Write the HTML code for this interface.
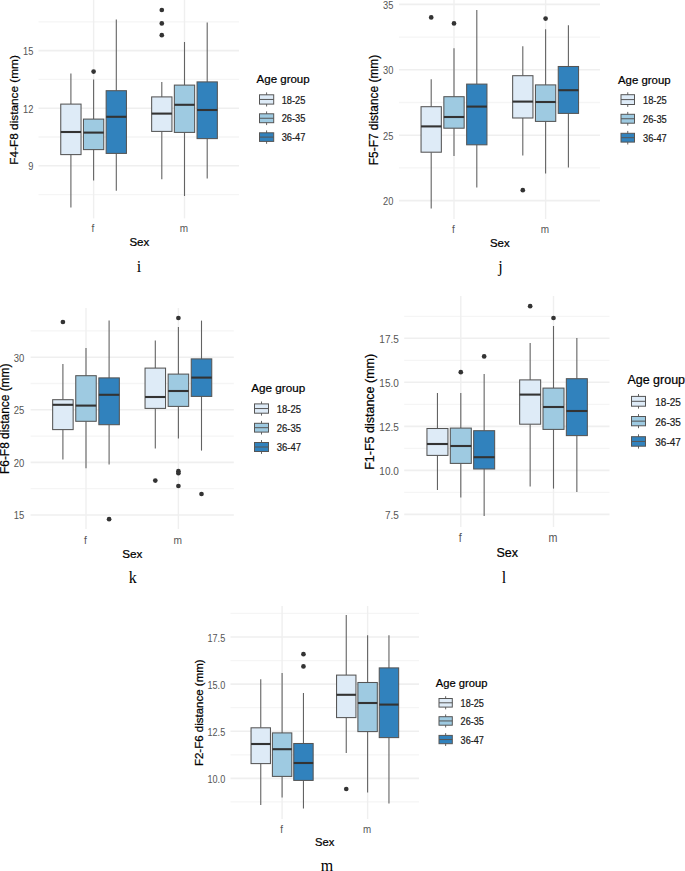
<!DOCTYPE html>
<html><head><meta charset="utf-8"><title>Boxplots</title>
<style>
html,body{margin:0;padding:0;background:#fff;}
body{width:685px;height:871px;overflow:hidden;}
svg{display:block;font-family:"Liberation Sans",sans-serif;}
</style></head>
<body>
<svg width="685" height="871" viewBox="0 0 685 871">
<rect width="685" height="871" fill="#fff"/>
<line x1="38.5" x2="239" y1="194.6" y2="194.6" stroke="#f5f5f5" stroke-width="1.3"/>
<line x1="38.5" x2="239" y1="137" y2="137" stroke="#f5f5f5" stroke-width="1.3"/>
<line x1="38.5" x2="239" y1="79.4" y2="79.4" stroke="#f5f5f5" stroke-width="1.3"/>
<line x1="38.5" x2="239" y1="21.8" y2="21.8" stroke="#f5f5f5" stroke-width="1.3"/>
<line x1="38.5" x2="239" y1="165.8" y2="165.8" stroke="#efefef" stroke-width="1.6"/>
<line x1="38.5" x2="239" y1="108.2" y2="108.2" stroke="#efefef" stroke-width="1.6"/>
<line x1="38.5" x2="239" y1="50.6" y2="50.6" stroke="#efefef" stroke-width="1.6"/>
<line x1="93.6" x2="93.6" y1="0" y2="218.4" stroke="#efefef" stroke-width="1.4"/>
<line x1="184.5" x2="184.5" y1="0" y2="218.4" stroke="#efefef" stroke-width="1.4"/>
<line x1="70.9" x2="70.9" y1="73.6" y2="104.1" stroke="#636363" stroke-width="1.1"/>
<line x1="70.9" x2="70.9" y1="154.6" y2="207.6" stroke="#636363" stroke-width="1.1"/>
<rect x="60.75" y="104.1" width="20.3" height="50.5" fill="#deebf7" stroke="#555555" stroke-width="1.05"/>
<line x1="60.75" x2="81.05" y1="132" y2="132" stroke="#333333" stroke-width="2.1"/>
<line x1="93.6" x2="93.6" y1="79.4" y2="119.1" stroke="#636363" stroke-width="1.1"/>
<line x1="93.6" x2="93.6" y1="149.6" y2="180.4" stroke="#636363" stroke-width="1.1"/>
<rect x="83.45" y="119.1" width="20.3" height="30.5" fill="#9ecae1" stroke="#555555" stroke-width="1.05"/>
<line x1="83.45" x2="103.75" y1="132.6" y2="132.6" stroke="#333333" stroke-width="2.1"/>
<circle cx="93.6" cy="71.6" r="2.35" fill="#333333"/>
<line x1="116.3" x2="116.3" y1="19.4" y2="90.7" stroke="#636363" stroke-width="1.1"/>
<line x1="116.3" x2="116.3" y1="153.4" y2="190.8" stroke="#636363" stroke-width="1.1"/>
<rect x="106.15" y="90.7" width="20.3" height="62.7" fill="#3182bd" stroke="#555555" stroke-width="1.05"/>
<line x1="106.15" x2="126.45" y1="116.8" y2="116.8" stroke="#333333" stroke-width="2.1"/>
<line x1="161.8" x2="161.8" y1="82" y2="96.9" stroke="#636363" stroke-width="1.1"/>
<line x1="161.8" x2="161.8" y1="131.4" y2="179.2" stroke="#636363" stroke-width="1.1"/>
<rect x="151.65" y="96.9" width="20.3" height="34.5" fill="#deebf7" stroke="#555555" stroke-width="1.05"/>
<line x1="151.65" x2="171.95" y1="113.6" y2="113.6" stroke="#333333" stroke-width="2.1"/>
<circle cx="161.8" cy="10" r="2.35" fill="#333333"/>
<circle cx="161.8" cy="23.4" r="2.35" fill="#333333"/>
<circle cx="161.8" cy="35.2" r="2.35" fill="#333333"/>
<line x1="184.5" x2="184.5" y1="42" y2="85.1" stroke="#636363" stroke-width="1.1"/>
<line x1="184.5" x2="184.5" y1="132.4" y2="196" stroke="#636363" stroke-width="1.1"/>
<rect x="174.35" y="85.1" width="20.3" height="47.3" fill="#9ecae1" stroke="#555555" stroke-width="1.05"/>
<line x1="174.35" x2="194.65" y1="104.8" y2="104.8" stroke="#333333" stroke-width="2.1"/>
<line x1="207.2" x2="207.2" y1="22.4" y2="81.9" stroke="#636363" stroke-width="1.1"/>
<line x1="207.2" x2="207.2" y1="138.6" y2="178.6" stroke="#636363" stroke-width="1.1"/>
<rect x="197.05" y="81.9" width="20.3" height="56.7" fill="#3182bd" stroke="#555555" stroke-width="1.05"/>
<line x1="197.05" x2="217.35" y1="110" y2="110" stroke="#333333" stroke-width="2.1"/>
<text transform="translate(33.3,54.91) scale(0.8929,1)" font-size="10.42" fill="#555555" text-anchor="end" stroke="#555555" stroke-width="0.0">15</text>
<text transform="translate(33.3,112.51) scale(0.8929,1)" font-size="10.42" fill="#555555" text-anchor="end" stroke="#555555" stroke-width="0.0">12</text>
<text transform="translate(33.3,170.11) scale(0.8929,1)" font-size="10.42" fill="#555555" text-anchor="end" stroke="#555555" stroke-width="0.0">9</text>
<text transform="translate(93,232.3) scale(0.8929,1)" font-size="11.2" fill="#555555" text-anchor="middle" stroke="#555555" stroke-width="0.0">f</text>
<text transform="translate(183.9,232.3) scale(0.8929,1)" font-size="11.2" fill="#555555" text-anchor="middle" stroke="#555555" stroke-width="0.0">m</text>
<text x="139.3" y="246" font-size="11.5" fill="#000" text-anchor="middle" stroke="#000" stroke-width="0.22">Sex</text>
<text transform="translate(17.5,109.9) rotate(-90)" font-size="11.8" fill="#000" text-anchor="middle" stroke="#000" stroke-width="0.22">F4-F8 distance (mm)</text>
<text x="256.6" y="83.2" font-size="11.5" fill="#000" stroke="#000" stroke-width="0.22">Age group</text>
<line x1="266.6" x2="266.6" y1="92.4" y2="106.5" stroke="#636363" stroke-width="1"/>
<rect x="259.5" y="94.8" width="14.2" height="9.3" fill="#deebf7" stroke="#555555" stroke-width="1"/>
<line x1="259.5" x2="273.7" y1="99.45" y2="99.45" stroke="#555" stroke-width="1"/>
<text transform="translate(281.7,103.66) scale(0.8929,1)" font-size="10.42" fill="#1a1a1a" stroke="#1a1a1a" stroke-width="0.22">18-25</text>
<line x1="266.6" x2="266.6" y1="111.4" y2="125.1" stroke="#636363" stroke-width="1"/>
<rect x="259.5" y="113.8" width="14.2" height="8.9" fill="#9ecae1" stroke="#555555" stroke-width="1"/>
<line x1="259.5" x2="273.7" y1="118.25" y2="118.25" stroke="#555" stroke-width="1"/>
<text transform="translate(281.7,122.46) scale(0.8929,1)" font-size="10.42" fill="#1a1a1a" stroke="#1a1a1a" stroke-width="0.22">26-35</text>
<line x1="266.6" x2="266.6" y1="130.4" y2="143.8" stroke="#636363" stroke-width="1"/>
<rect x="259.5" y="132.8" width="14.2" height="8.6" fill="#3182bd" stroke="#555555" stroke-width="1"/>
<line x1="259.5" x2="273.7" y1="137.1" y2="137.1" stroke="#555" stroke-width="1"/>
<text transform="translate(281.7,141.31) scale(0.8929,1)" font-size="10.42" fill="#1a1a1a" stroke="#1a1a1a" stroke-width="0.22">36-47</text>
<text x="139" y="272" font-size="16" font-family="Liberation Serif, serif" fill="#000" text-anchor="middle">i</text>
<line x1="399" x2="600" y1="167.9" y2="167.9" stroke="#f5f5f5" stroke-width="1.3"/>
<line x1="399" x2="600" y1="102.5" y2="102.5" stroke="#f5f5f5" stroke-width="1.3"/>
<line x1="399" x2="600" y1="37.1" y2="37.1" stroke="#f5f5f5" stroke-width="1.3"/>
<line x1="399" x2="600" y1="200.6" y2="200.6" stroke="#efefef" stroke-width="1.6"/>
<line x1="399" x2="600" y1="135.2" y2="135.2" stroke="#efefef" stroke-width="1.6"/>
<line x1="399" x2="600" y1="69.8" y2="69.8" stroke="#efefef" stroke-width="1.6"/>
<line x1="399" x2="600" y1="4.4" y2="4.4" stroke="#efefef" stroke-width="1.6"/>
<line x1="454" x2="454" y1="0" y2="219" stroke="#efefef" stroke-width="1.4"/>
<line x1="545.6" x2="545.6" y1="0" y2="219" stroke="#efefef" stroke-width="1.4"/>
<line x1="431.2" x2="431.2" y1="79.2" y2="106.7" stroke="#636363" stroke-width="1.1"/>
<line x1="431.2" x2="431.2" y1="152.2" y2="208.6" stroke="#636363" stroke-width="1.1"/>
<rect x="421.05" y="106.7" width="20.3" height="45.5" fill="#deebf7" stroke="#555555" stroke-width="1.05"/>
<line x1="421.05" x2="441.35" y1="126.4" y2="126.4" stroke="#333333" stroke-width="2.1"/>
<circle cx="431.2" cy="17.4" r="2.35" fill="#333333"/>
<line x1="454" x2="454" y1="48.2" y2="96.7" stroke="#636363" stroke-width="1.1"/>
<line x1="454" x2="454" y1="128.2" y2="156" stroke="#636363" stroke-width="1.1"/>
<rect x="443.85" y="96.7" width="20.3" height="31.5" fill="#9ecae1" stroke="#555555" stroke-width="1.05"/>
<line x1="443.85" x2="464.15" y1="117" y2="117" stroke="#333333" stroke-width="2.1"/>
<circle cx="454" cy="23.4" r="2.35" fill="#333333"/>
<line x1="476.8" x2="476.8" y1="10" y2="84.1" stroke="#636363" stroke-width="1.1"/>
<line x1="476.8" x2="476.8" y1="144.8" y2="187.6" stroke="#636363" stroke-width="1.1"/>
<rect x="466.65" y="84.1" width="20.3" height="60.7" fill="#3182bd" stroke="#555555" stroke-width="1.05"/>
<line x1="466.65" x2="486.95" y1="106.6" y2="106.6" stroke="#333333" stroke-width="2.1"/>
<line x1="522.8" x2="522.8" y1="46.2" y2="75.7" stroke="#636363" stroke-width="1.1"/>
<line x1="522.8" x2="522.8" y1="118" y2="155.6" stroke="#636363" stroke-width="1.1"/>
<rect x="512.65" y="75.7" width="20.3" height="42.3" fill="#deebf7" stroke="#555555" stroke-width="1.05"/>
<line x1="512.65" x2="532.95" y1="101.6" y2="101.6" stroke="#333333" stroke-width="2.1"/>
<circle cx="522.8" cy="190.2" r="2.35" fill="#333333"/>
<line x1="545.6" x2="545.6" y1="29.2" y2="84.9" stroke="#636363" stroke-width="1.1"/>
<line x1="545.6" x2="545.6" y1="121.4" y2="173.4" stroke="#636363" stroke-width="1.1"/>
<rect x="535.45" y="84.9" width="20.3" height="36.5" fill="#9ecae1" stroke="#555555" stroke-width="1.05"/>
<line x1="535.45" x2="555.75" y1="102" y2="102" stroke="#333333" stroke-width="2.1"/>
<circle cx="545.6" cy="18.6" r="2.35" fill="#333333"/>
<line x1="568.4" x2="568.4" y1="25.2" y2="66.5" stroke="#636363" stroke-width="1.1"/>
<line x1="568.4" x2="568.4" y1="113.4" y2="167.6" stroke="#636363" stroke-width="1.1"/>
<rect x="558.25" y="66.5" width="20.3" height="46.9" fill="#3182bd" stroke="#555555" stroke-width="1.05"/>
<line x1="558.25" x2="578.55" y1="90.2" y2="90.2" stroke="#333333" stroke-width="2.1"/>
<text transform="translate(393.3,8.71) scale(0.8929,1)" font-size="10.42" fill="#555555" text-anchor="end" stroke="#555555" stroke-width="0.0">35</text>
<text transform="translate(393.3,74.11) scale(0.8929,1)" font-size="10.42" fill="#555555" text-anchor="end" stroke="#555555" stroke-width="0.0">30</text>
<text transform="translate(393.3,139.51) scale(0.8929,1)" font-size="10.42" fill="#555555" text-anchor="end" stroke="#555555" stroke-width="0.0">25</text>
<text transform="translate(393.3,204.91) scale(0.8929,1)" font-size="10.42" fill="#555555" text-anchor="end" stroke="#555555" stroke-width="0.0">20</text>
<text transform="translate(453.4,233) scale(0.8929,1)" font-size="11.2" fill="#555555" text-anchor="middle" stroke="#555555" stroke-width="0.0">f</text>
<text transform="translate(545,233) scale(0.8929,1)" font-size="11.2" fill="#555555" text-anchor="middle" stroke="#555555" stroke-width="0.0">m</text>
<text x="499.8" y="247" font-size="11.4" fill="#000" text-anchor="middle" stroke="#000" stroke-width="0.22">Sex</text>
<text transform="translate(377.7,110) rotate(-90)" font-size="11.9" fill="#000" text-anchor="middle" stroke="#000" stroke-width="0.22">F5-F7 distance (mm)</text>
<text x="618" y="83.5" font-size="11.4" fill="#000" stroke="#000" stroke-width="0.22">Age group</text>
<line x1="627.75" x2="627.75" y1="92.3" y2="106.9" stroke="#636363" stroke-width="1"/>
<rect x="621" y="94.7" width="13.5" height="9.8" fill="#deebf7" stroke="#555555" stroke-width="1"/>
<line x1="621" x2="634.5" y1="99.6" y2="99.6" stroke="#555" stroke-width="1"/>
<text transform="translate(643,103.81) scale(0.8929,1)" font-size="10.42" fill="#1a1a1a" stroke="#1a1a1a" stroke-width="0.22">18-25</text>
<line x1="627.75" x2="627.75" y1="111.9" y2="125.6" stroke="#636363" stroke-width="1"/>
<rect x="621" y="114.3" width="13.5" height="8.9" fill="#9ecae1" stroke="#555555" stroke-width="1"/>
<line x1="621" x2="634.5" y1="118.75" y2="118.75" stroke="#555" stroke-width="1"/>
<text transform="translate(643,122.96) scale(0.8929,1)" font-size="10.42" fill="#1a1a1a" stroke="#1a1a1a" stroke-width="0.22">26-35</text>
<line x1="627.75" x2="627.75" y1="130.9" y2="144.5" stroke="#636363" stroke-width="1"/>
<rect x="621" y="133.3" width="13.5" height="8.8" fill="#3182bd" stroke="#555555" stroke-width="1"/>
<line x1="621" x2="634.5" y1="137.7" y2="137.7" stroke="#555" stroke-width="1"/>
<text transform="translate(643,141.91) scale(0.8929,1)" font-size="10.42" fill="#1a1a1a" stroke="#1a1a1a" stroke-width="0.22">36-47</text>
<text x="500.5" y="272" font-size="16" font-family="Liberation Serif, serif" fill="#000" text-anchor="middle">j</text>
<line x1="30.6" x2="233.8" y1="488.7" y2="488.7" stroke="#f5f5f5" stroke-width="1.3"/>
<line x1="30.6" x2="233.8" y1="436.1" y2="436.1" stroke="#f5f5f5" stroke-width="1.3"/>
<line x1="30.6" x2="233.8" y1="383.5" y2="383.5" stroke="#f5f5f5" stroke-width="1.3"/>
<line x1="30.6" x2="233.8" y1="330.9" y2="330.9" stroke="#f5f5f5" stroke-width="1.3"/>
<line x1="30.6" x2="233.8" y1="515" y2="515" stroke="#efefef" stroke-width="1.6"/>
<line x1="30.6" x2="233.8" y1="462.4" y2="462.4" stroke="#efefef" stroke-width="1.6"/>
<line x1="30.6" x2="233.8" y1="409.8" y2="409.8" stroke="#efefef" stroke-width="1.6"/>
<line x1="30.6" x2="233.8" y1="357.2" y2="357.2" stroke="#efefef" stroke-width="1.6"/>
<line x1="86" x2="86" y1="308" y2="529" stroke="#efefef" stroke-width="1.4"/>
<line x1="178.4" x2="178.4" y1="308" y2="529" stroke="#efefef" stroke-width="1.4"/>
<line x1="62.9" x2="62.9" y1="364" y2="399.7" stroke="#636363" stroke-width="1.1"/>
<line x1="62.9" x2="62.9" y1="429.6" y2="459.6" stroke="#636363" stroke-width="1.1"/>
<rect x="52.65" y="399.7" width="20.5" height="29.9" fill="#deebf7" stroke="#555555" stroke-width="1.05"/>
<line x1="52.65" x2="73.15" y1="404.8" y2="404.8" stroke="#333333" stroke-width="2.1"/>
<circle cx="62.9" cy="322" r="2.35" fill="#333333"/>
<line x1="86" x2="86" y1="348" y2="375.7" stroke="#636363" stroke-width="1.1"/>
<line x1="86" x2="86" y1="421.3" y2="468.2" stroke="#636363" stroke-width="1.1"/>
<rect x="75.75" y="375.7" width="20.5" height="45.6" fill="#9ecae1" stroke="#555555" stroke-width="1.05"/>
<line x1="75.75" x2="96.25" y1="405.6" y2="405.6" stroke="#333333" stroke-width="2.1"/>
<line x1="109.1" x2="109.1" y1="320.6" y2="377.9" stroke="#636363" stroke-width="1.1"/>
<line x1="109.1" x2="109.1" y1="424.7" y2="464.6" stroke="#636363" stroke-width="1.1"/>
<rect x="98.85" y="377.9" width="20.5" height="46.8" fill="#3182bd" stroke="#555555" stroke-width="1.05"/>
<line x1="98.85" x2="119.35" y1="394.8" y2="394.8" stroke="#333333" stroke-width="2.1"/>
<circle cx="109.1" cy="519.2" r="2.35" fill="#333333"/>
<line x1="155.3" x2="155.3" y1="340.6" y2="368.1" stroke="#636363" stroke-width="1.1"/>
<line x1="155.3" x2="155.3" y1="408.4" y2="448.6" stroke="#636363" stroke-width="1.1"/>
<rect x="145.05" y="368.1" width="20.5" height="40.3" fill="#deebf7" stroke="#555555" stroke-width="1.05"/>
<line x1="145.05" x2="165.55" y1="397" y2="397" stroke="#333333" stroke-width="2.1"/>
<circle cx="155.3" cy="480.6" r="2.35" fill="#333333"/>
<line x1="178.4" x2="178.4" y1="327" y2="374.1" stroke="#636363" stroke-width="1.1"/>
<line x1="178.4" x2="178.4" y1="406.4" y2="438.4" stroke="#636363" stroke-width="1.1"/>
<rect x="168.15" y="374.1" width="20.5" height="32.3" fill="#9ecae1" stroke="#555555" stroke-width="1.05"/>
<line x1="168.15" x2="188.65" y1="391" y2="391" stroke="#333333" stroke-width="2.1"/>
<circle cx="178.4" cy="318" r="2.35" fill="#333333"/>
<circle cx="178.4" cy="471.2" r="2.35" fill="#333333"/>
<circle cx="178.4" cy="473.2" r="2.35" fill="#333333"/>
<circle cx="178.4" cy="486" r="2.35" fill="#333333"/>
<line x1="201.5" x2="201.5" y1="320.6" y2="358.9" stroke="#636363" stroke-width="1.1"/>
<line x1="201.5" x2="201.5" y1="396.4" y2="450.6" stroke="#636363" stroke-width="1.1"/>
<rect x="191.25" y="358.9" width="20.5" height="37.5" fill="#3182bd" stroke="#555555" stroke-width="1.05"/>
<line x1="191.25" x2="211.75" y1="377.6" y2="377.6" stroke="#333333" stroke-width="2.1"/>
<circle cx="201.5" cy="494" r="2.35" fill="#333333"/>
<text transform="translate(24.3,361.58) scale(0.8929,1)" font-size="10.64" fill="#555555" text-anchor="end" stroke="#555555" stroke-width="0.0">30</text>
<text transform="translate(24.3,414.18) scale(0.8929,1)" font-size="10.64" fill="#555555" text-anchor="end" stroke="#555555" stroke-width="0.0">25</text>
<text transform="translate(24.3,466.78) scale(0.8929,1)" font-size="10.64" fill="#555555" text-anchor="end" stroke="#555555" stroke-width="0.0">20</text>
<text transform="translate(24.3,519.38) scale(0.8929,1)" font-size="10.64" fill="#555555" text-anchor="end" stroke="#555555" stroke-width="0.0">15</text>
<text transform="translate(85.4,543.5) scale(0.8929,1)" font-size="11.42" fill="#555555" text-anchor="middle" stroke="#555555" stroke-width="0.0">f</text>
<text transform="translate(177.8,543.5) scale(0.8929,1)" font-size="11.42" fill="#555555" text-anchor="middle" stroke="#555555" stroke-width="0.0">m</text>
<text x="132.2" y="557.6" font-size="11.7" fill="#000" text-anchor="middle" stroke="#000" stroke-width="0.22">Sex</text>
<text transform="translate(9.4,418.8) rotate(-90)" font-size="11.9" fill="#000" text-anchor="middle" stroke="#000" stroke-width="0.22">F6-F8 distance (mm)</text>
<text x="251.3" y="392" font-size="11.7" fill="#000" stroke="#000" stroke-width="0.22">Age group</text>
<line x1="261.5" x2="261.5" y1="401.5" y2="415.6" stroke="#636363" stroke-width="1"/>
<rect x="254.5" y="403.9" width="14" height="9.3" fill="#deebf7" stroke="#555555" stroke-width="1"/>
<line x1="254.5" x2="268.5" y1="408.55" y2="408.55" stroke="#555" stroke-width="1"/>
<text transform="translate(276.8,412.83) scale(0.8929,1)" font-size="10.64" fill="#1a1a1a" stroke="#1a1a1a" stroke-width="0.22">18-25</text>
<line x1="261.5" x2="261.5" y1="420.9" y2="434.5" stroke="#636363" stroke-width="1"/>
<rect x="254.5" y="423.3" width="14" height="8.8" fill="#9ecae1" stroke="#555555" stroke-width="1"/>
<line x1="254.5" x2="268.5" y1="427.7" y2="427.7" stroke="#555" stroke-width="1"/>
<text transform="translate(276.8,431.98) scale(0.8929,1)" font-size="10.64" fill="#1a1a1a" stroke="#1a1a1a" stroke-width="0.22">26-35</text>
<line x1="261.5" x2="261.5" y1="440.1" y2="453.9" stroke="#636363" stroke-width="1"/>
<rect x="254.5" y="442.5" width="14" height="9" fill="#3182bd" stroke="#555555" stroke-width="1"/>
<line x1="254.5" x2="268.5" y1="447" y2="447" stroke="#555" stroke-width="1"/>
<text transform="translate(276.8,451.28) scale(0.8929,1)" font-size="10.64" fill="#1a1a1a" stroke="#1a1a1a" stroke-width="0.22">36-47</text>
<text x="132.7" y="583" font-size="16" font-family="Liberation Serif, serif" fill="#000" text-anchor="middle">k</text>
<line x1="404.2" x2="609.5" y1="492.39" y2="492.39" stroke="#f5f5f5" stroke-width="1.3"/>
<line x1="404.2" x2="609.5" y1="448.36" y2="448.36" stroke="#f5f5f5" stroke-width="1.3"/>
<line x1="404.2" x2="609.5" y1="404.34" y2="404.34" stroke="#f5f5f5" stroke-width="1.3"/>
<line x1="404.2" x2="609.5" y1="360.31" y2="360.31" stroke="#f5f5f5" stroke-width="1.3"/>
<line x1="404.2" x2="609.5" y1="316.29" y2="316.29" stroke="#f5f5f5" stroke-width="1.3"/>
<line x1="404.2" x2="609.5" y1="514.4" y2="514.4" stroke="#efefef" stroke-width="1.6"/>
<line x1="404.2" x2="609.5" y1="470.38" y2="470.38" stroke="#efefef" stroke-width="1.6"/>
<line x1="404.2" x2="609.5" y1="426.35" y2="426.35" stroke="#efefef" stroke-width="1.6"/>
<line x1="404.2" x2="609.5" y1="382.32" y2="382.32" stroke="#efefef" stroke-width="1.6"/>
<line x1="404.2" x2="609.5" y1="338.3" y2="338.3" stroke="#efefef" stroke-width="1.6"/>
<line x1="460.8" x2="460.8" y1="296" y2="527" stroke="#efefef" stroke-width="1.4"/>
<line x1="553.5" x2="553.5" y1="296" y2="527" stroke="#efefef" stroke-width="1.4"/>
<line x1="437.45" x2="437.45" y1="393" y2="428.5" stroke="#636363" stroke-width="1.1"/>
<line x1="437.45" x2="437.45" y1="455.4" y2="490" stroke="#636363" stroke-width="1.1"/>
<rect x="426.95" y="428.5" width="21" height="26.9" fill="#deebf7" stroke="#555555" stroke-width="1.05"/>
<line x1="426.95" x2="447.95" y1="444" y2="444" stroke="#333333" stroke-width="2.1"/>
<line x1="460.8" x2="460.8" y1="393" y2="428.1" stroke="#636363" stroke-width="1.1"/>
<line x1="460.8" x2="460.8" y1="463.4" y2="497.6" stroke="#636363" stroke-width="1.1"/>
<rect x="450.3" y="428.1" width="21" height="35.3" fill="#9ecae1" stroke="#555555" stroke-width="1.05"/>
<line x1="450.3" x2="471.3" y1="446" y2="446" stroke="#333333" stroke-width="2.1"/>
<circle cx="460.8" cy="372.2" r="2.35" fill="#333333"/>
<line x1="484.15" x2="484.15" y1="374" y2="430.7" stroke="#636363" stroke-width="1.1"/>
<line x1="484.15" x2="484.15" y1="469" y2="516" stroke="#636363" stroke-width="1.1"/>
<rect x="473.65" y="430.7" width="21" height="38.3" fill="#3182bd" stroke="#555555" stroke-width="1.05"/>
<line x1="473.65" x2="494.65" y1="457.2" y2="457.2" stroke="#333333" stroke-width="2.1"/>
<circle cx="484.15" cy="356.4" r="2.35" fill="#333333"/>
<line x1="530.15" x2="530.15" y1="343" y2="379.9" stroke="#636363" stroke-width="1.1"/>
<line x1="530.15" x2="530.15" y1="424.2" y2="486.6" stroke="#636363" stroke-width="1.1"/>
<rect x="519.65" y="379.9" width="21" height="44.3" fill="#deebf7" stroke="#555555" stroke-width="1.05"/>
<line x1="519.65" x2="540.65" y1="394.6" y2="394.6" stroke="#333333" stroke-width="2.1"/>
<circle cx="530.15" cy="306.2" r="2.35" fill="#333333"/>
<line x1="553.5" x2="553.5" y1="326" y2="388.1" stroke="#636363" stroke-width="1.1"/>
<line x1="553.5" x2="553.5" y1="429.4" y2="488.6" stroke="#636363" stroke-width="1.1"/>
<rect x="543" y="388.1" width="21" height="41.3" fill="#9ecae1" stroke="#555555" stroke-width="1.05"/>
<line x1="543" x2="564" y1="407" y2="407" stroke="#333333" stroke-width="2.1"/>
<circle cx="553.5" cy="318" r="2.35" fill="#333333"/>
<line x1="576.85" x2="576.85" y1="338" y2="378.7" stroke="#636363" stroke-width="1.1"/>
<line x1="576.85" x2="576.85" y1="435.6" y2="492" stroke="#636363" stroke-width="1.1"/>
<rect x="566.35" y="378.7" width="21" height="56.9" fill="#3182bd" stroke="#555555" stroke-width="1.05"/>
<line x1="566.35" x2="587.35" y1="411" y2="411" stroke="#333333" stroke-width="2.1"/>
<text transform="translate(398.8,342.65) scale(0.8929,1)" font-size="11.2" fill="#555555" text-anchor="end" stroke="#555555" stroke-width="0.0">17.5</text>
<text transform="translate(398.8,386.68) scale(0.8929,1)" font-size="11.2" fill="#555555" text-anchor="end" stroke="#555555" stroke-width="0.0">15.0</text>
<text transform="translate(398.8,430.7) scale(0.8929,1)" font-size="11.2" fill="#555555" text-anchor="end" stroke="#555555" stroke-width="0.0">12.5</text>
<text transform="translate(398.8,474.73) scale(0.8929,1)" font-size="11.2" fill="#555555" text-anchor="end" stroke="#555555" stroke-width="0.0">10.0</text>
<text transform="translate(398.8,518.75) scale(0.8929,1)" font-size="11.2" fill="#555555" text-anchor="end" stroke="#555555" stroke-width="0.0">7.5</text>
<text transform="translate(460.2,542.2) scale(0.8929,1)" font-size="11.98" fill="#555555" text-anchor="middle" stroke="#555555" stroke-width="0.0">f</text>
<text transform="translate(552.9,542.2) scale(0.8929,1)" font-size="11.98" fill="#555555" text-anchor="middle" stroke="#555555" stroke-width="0.0">m</text>
<text x="507.3" y="557" font-size="12.5" fill="#000" text-anchor="middle" stroke="#000" stroke-width="0.22">Sex</text>
<text transform="translate(374.2,411.8) rotate(-90)" font-size="12.5" fill="#000" text-anchor="middle" stroke="#000" stroke-width="0.22">F1-F5 distance (mm)</text>
<text x="627.4" y="383.6" font-size="12.5" fill="#000" stroke="#000" stroke-width="0.22">Age group</text>
<line x1="638.5" x2="638.5" y1="394" y2="408.6" stroke="#636363" stroke-width="1"/>
<rect x="631.5" y="396.4" width="14" height="9.8" fill="#deebf7" stroke="#555555" stroke-width="1"/>
<line x1="631.5" x2="645.5" y1="401.3" y2="401.3" stroke="#555" stroke-width="1"/>
<text transform="translate(655.3,405.75) scale(0.8929,1)" font-size="11.2" fill="#1a1a1a" stroke="#1a1a1a" stroke-width="0.22">18-25</text>
<line x1="638.5" x2="638.5" y1="414.1" y2="428.2" stroke="#636363" stroke-width="1"/>
<rect x="631.5" y="416.5" width="14" height="9.3" fill="#9ecae1" stroke="#555555" stroke-width="1"/>
<line x1="631.5" x2="645.5" y1="421.15" y2="421.15" stroke="#555" stroke-width="1"/>
<text transform="translate(655.3,425.6) scale(0.8929,1)" font-size="11.2" fill="#1a1a1a" stroke="#1a1a1a" stroke-width="0.22">26-35</text>
<line x1="638.5" x2="638.5" y1="434.3" y2="448.6" stroke="#636363" stroke-width="1"/>
<rect x="631.5" y="436.7" width="14" height="9.5" fill="#3182bd" stroke="#555555" stroke-width="1"/>
<line x1="631.5" x2="645.5" y1="441.45" y2="441.45" stroke="#555" stroke-width="1"/>
<text transform="translate(655.3,445.9) scale(0.8929,1)" font-size="11.2" fill="#1a1a1a" stroke="#1a1a1a" stroke-width="0.22">36-47</text>
<text x="504" y="582.6" font-size="16" font-family="Liberation Serif, serif" fill="#000" text-anchor="middle">l</text>
<line x1="230.5" x2="419" y1="801.94" y2="801.94" stroke="#f5f5f5" stroke-width="1.3"/>
<line x1="230.5" x2="419" y1="754.81" y2="754.81" stroke="#f5f5f5" stroke-width="1.3"/>
<line x1="230.5" x2="419" y1="707.69" y2="707.69" stroke="#f5f5f5" stroke-width="1.3"/>
<line x1="230.5" x2="419" y1="660.56" y2="660.56" stroke="#f5f5f5" stroke-width="1.3"/>
<line x1="230.5" x2="419" y1="613.44" y2="613.44" stroke="#f5f5f5" stroke-width="1.3"/>
<line x1="230.5" x2="419" y1="778.38" y2="778.38" stroke="#efefef" stroke-width="1.6"/>
<line x1="230.5" x2="419" y1="731.25" y2="731.25" stroke="#efefef" stroke-width="1.6"/>
<line x1="230.5" x2="419" y1="684.12" y2="684.12" stroke="#efefef" stroke-width="1.6"/>
<line x1="230.5" x2="419" y1="637" y2="637" stroke="#efefef" stroke-width="1.6"/>
<line x1="282.1" x2="282.1" y1="606" y2="819" stroke="#efefef" stroke-width="1.4"/>
<line x1="367.6" x2="367.6" y1="606" y2="819" stroke="#efefef" stroke-width="1.4"/>
<line x1="260.75" x2="260.75" y1="679.2" y2="727.8" stroke="#636363" stroke-width="1.1"/>
<line x1="260.75" x2="260.75" y1="763.6" y2="805" stroke="#636363" stroke-width="1.1"/>
<rect x="251.05" y="727.8" width="19.4" height="35.8" fill="#deebf7" stroke="#555555" stroke-width="1.05"/>
<line x1="251.05" x2="270.45" y1="744" y2="744" stroke="#333333" stroke-width="2.1"/>
<line x1="282.1" x2="282.1" y1="673" y2="732.9" stroke="#636363" stroke-width="1.1"/>
<line x1="282.1" x2="282.1" y1="776.4" y2="797.6" stroke="#636363" stroke-width="1.1"/>
<rect x="272.4" y="732.9" width="19.4" height="43.5" fill="#9ecae1" stroke="#555555" stroke-width="1.05"/>
<line x1="272.4" x2="291.8" y1="749.2" y2="749.2" stroke="#333333" stroke-width="2.1"/>
<line x1="303.45" x2="303.45" y1="693" y2="743.5" stroke="#636363" stroke-width="1.1"/>
<line x1="303.45" x2="303.45" y1="780.4" y2="808.6" stroke="#636363" stroke-width="1.1"/>
<rect x="293.75" y="743.5" width="19.4" height="36.9" fill="#3182bd" stroke="#555555" stroke-width="1.05"/>
<line x1="293.75" x2="313.15" y1="763" y2="763" stroke="#333333" stroke-width="2.1"/>
<circle cx="303.45" cy="654.2" r="2.35" fill="#333333"/>
<circle cx="303.45" cy="666.4" r="2.35" fill="#333333"/>
<line x1="346.25" x2="346.25" y1="615" y2="675.1" stroke="#636363" stroke-width="1.1"/>
<line x1="346.25" x2="346.25" y1="717.6" y2="753" stroke="#636363" stroke-width="1.1"/>
<rect x="336.55" y="675.1" width="19.4" height="42.5" fill="#deebf7" stroke="#555555" stroke-width="1.05"/>
<line x1="336.55" x2="355.95" y1="694.8" y2="694.8" stroke="#333333" stroke-width="2.1"/>
<circle cx="346.25" cy="789" r="2.35" fill="#333333"/>
<line x1="367.6" x2="367.6" y1="635.2" y2="682.5" stroke="#636363" stroke-width="1.1"/>
<line x1="367.6" x2="367.6" y1="731.6" y2="792.6" stroke="#636363" stroke-width="1.1"/>
<rect x="357.9" y="682.5" width="19.4" height="49.1" fill="#9ecae1" stroke="#555555" stroke-width="1.05"/>
<line x1="357.9" x2="377.3" y1="703" y2="703" stroke="#333333" stroke-width="2.1"/>
<line x1="388.95" x2="388.95" y1="635.2" y2="667.9" stroke="#636363" stroke-width="1.1"/>
<line x1="388.95" x2="388.95" y1="737.6" y2="803.6" stroke="#636363" stroke-width="1.1"/>
<rect x="379.25" y="667.9" width="19.4" height="69.7" fill="#3182bd" stroke="#555555" stroke-width="1.05"/>
<line x1="379.25" x2="398.65" y1="704.6" y2="704.6" stroke="#333333" stroke-width="2.1"/>
<text transform="translate(225.2,642.04) scale(0.8929,1)" font-size="10.19" fill="#555555" text-anchor="end" stroke="#555555" stroke-width="0.0">17.5</text>
<text transform="translate(225.2,689.16) scale(0.8929,1)" font-size="10.19" fill="#555555" text-anchor="end" stroke="#555555" stroke-width="0.0">15.0</text>
<text transform="translate(225.2,736.29) scale(0.8929,1)" font-size="10.19" fill="#555555" text-anchor="end" stroke="#555555" stroke-width="0.0">12.5</text>
<text transform="translate(225.2,783.41) scale(0.8929,1)" font-size="10.19" fill="#555555" text-anchor="end" stroke="#555555" stroke-width="0.0">10.0</text>
<text transform="translate(281.5,832.8) scale(0.8929,1)" font-size="10.98" fill="#555555" text-anchor="middle" stroke="#555555" stroke-width="0.0">f</text>
<text transform="translate(367,832.8) scale(0.8929,1)" font-size="10.98" fill="#555555" text-anchor="middle" stroke="#555555" stroke-width="0.0">m</text>
<text x="324.7" y="846.4" font-size="11.2" fill="#000" text-anchor="middle" stroke="#000" stroke-width="0.22">Sex</text>
<text transform="translate(203,712.7) rotate(-90)" font-size="11.5" fill="#000" text-anchor="middle" stroke="#000" stroke-width="0.22">F2-F6 distance (mm)</text>
<text x="435.8" y="687.2" font-size="11.2" fill="#000" stroke="#000" stroke-width="0.22">Age group</text>
<line x1="445.65" x2="445.65" y1="696.2" y2="709.4" stroke="#636363" stroke-width="1"/>
<rect x="439" y="698.5" width="13.3" height="8.6" fill="#deebf7" stroke="#555555" stroke-width="1"/>
<line x1="439" x2="452.3" y1="702.8" y2="702.8" stroke="#555" stroke-width="1"/>
<text transform="translate(460.6,706.94) scale(0.8929,1)" font-size="10.19" fill="#1a1a1a" stroke="#1a1a1a" stroke-width="0.22">18-25</text>
<line x1="445.65" x2="445.65" y1="714.4" y2="727.5" stroke="#636363" stroke-width="1"/>
<rect x="439" y="716.7" width="13.3" height="8.5" fill="#9ecae1" stroke="#555555" stroke-width="1"/>
<line x1="439" x2="452.3" y1="720.95" y2="720.95" stroke="#555" stroke-width="1"/>
<text transform="translate(460.6,725.09) scale(0.8929,1)" font-size="10.19" fill="#1a1a1a" stroke="#1a1a1a" stroke-width="0.22">26-35</text>
<line x1="445.65" x2="445.65" y1="733.1" y2="746" stroke="#636363" stroke-width="1"/>
<rect x="439" y="735.4" width="13.3" height="8.3" fill="#3182bd" stroke="#555555" stroke-width="1"/>
<line x1="439" x2="452.3" y1="739.55" y2="739.55" stroke="#555" stroke-width="1"/>
<text transform="translate(460.6,743.69) scale(0.8929,1)" font-size="10.19" fill="#1a1a1a" stroke="#1a1a1a" stroke-width="0.22">36-47</text>
<text x="327" y="871" font-size="16" font-family="Liberation Serif, serif" fill="#000" text-anchor="middle">m</text>
</svg>
</body></html>
